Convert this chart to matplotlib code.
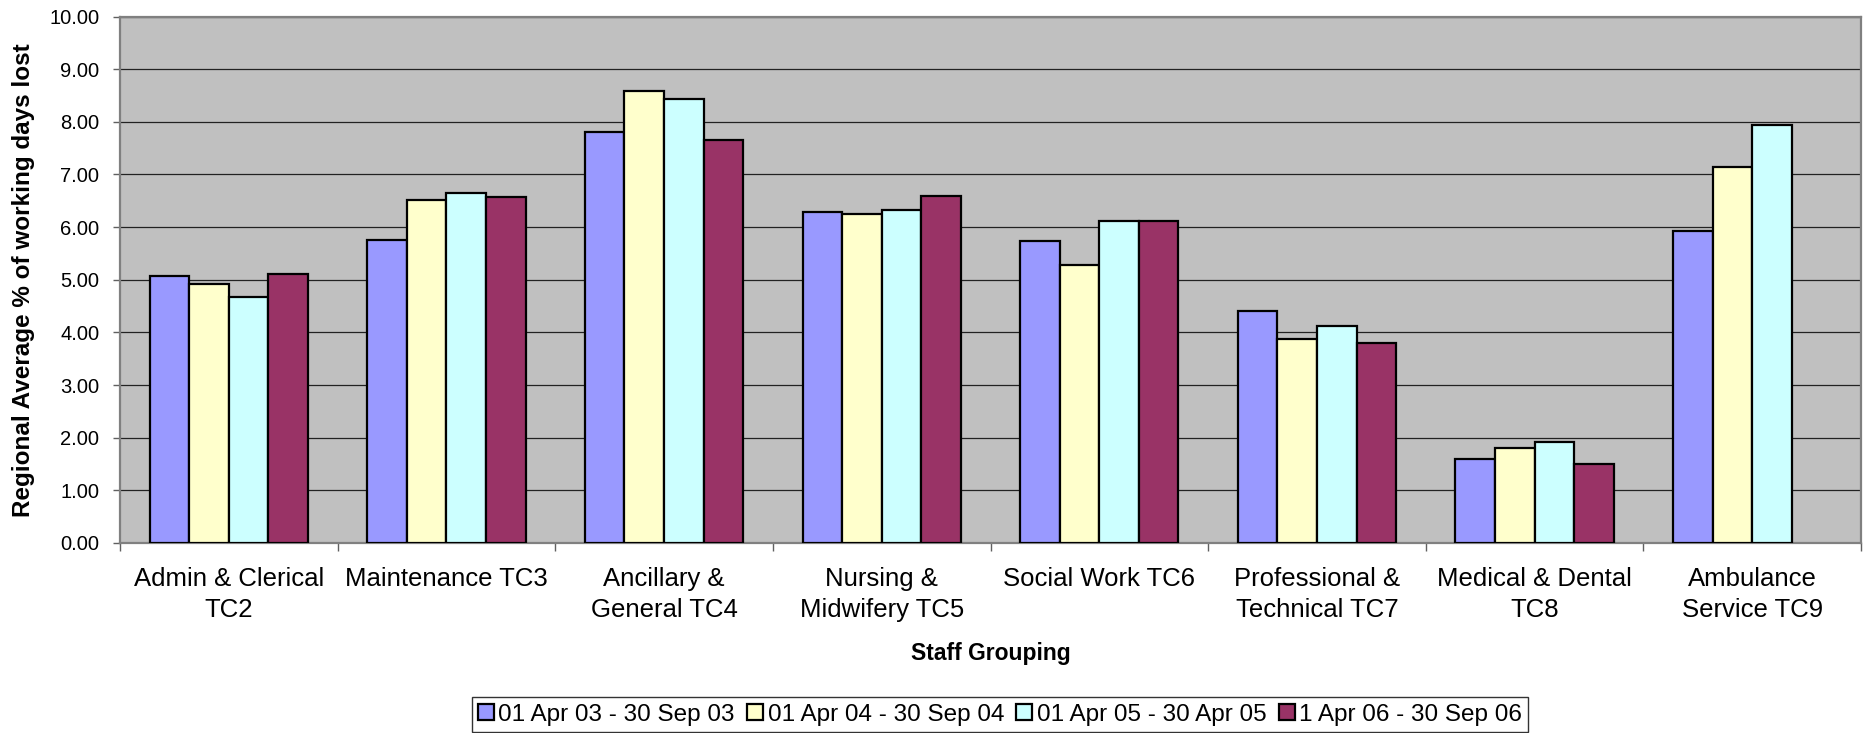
import numpy as np
import matplotlib
matplotlib.use("Agg")
import matplotlib.pyplot as plt
from matplotlib.ticker import FixedLocator, NullFormatter, FixedFormatter

plt.rcParams['font.family'] = ['Liberation Sans', 'DejaVu Sans']

categories = ["Admin & Clerical\nTC2", "Maintenance TC3", "Ancillary &\nGeneral TC4",
              "Nursing &\nMidwifery TC5", "Social Work TC6", "Professional &\nTechnical TC7",
              "Medical & Dental\nTC8", "Ambulance\nService TC9"]
series_names = ["01 Apr 03 - 30 Sep 03", "01 Apr 04 - 30 Sep 04",
                "01 Apr 05 - 30 Apr 05", "1 Apr 06 - 30 Sep 06"]
s2003 = [5.08, 5.76, 7.81, 6.29, 5.73, 4.40, 1.59, 5.93]
s2004 = [4.91, 6.52, 8.59, 6.25, 5.28, 3.87, 1.80, 7.14]
s2005 = [4.68, 6.64, 8.43, 6.32, 6.12, 4.12, 1.91, 7.93]
s2006 = [5.10, 6.58, 7.65, 6.59, 6.12, 3.80, 1.50, np.nan]
series = [s2003, s2004, s2005, s2006]
colors = ["#9999FF", "#FFFFCC", "#CCFFFF", "#993366"]
yticks = [0, 1, 2, 3, 4, 5, 6, 7, 8, 9, 10]

W, H = 1867, 733
fig = plt.figure(figsize=(W / 100, H / 100), dpi=100)
ax = fig.add_axes([120 / W, 1 - 543 / H, (1861 - 120) / W, (543 - 16.5) / H])
ax.set_facecolor("#C0C0C0")

n = len(categories)
centers = np.arange(n) + 0.5
w = 1 / 5.5
for j, (vals, col, name) in enumerate(zip(series, colors, series_names)):
    ax.bar(centers + (j - 1.5) * w, vals, width=w, color=col, edgecolor="black",
           linewidth=1.6, label=name, zorder=3)

ax.set_xlim(0, n)
ax.set_ylim(0, 10)
ax.set_yticks(yticks)
ax.set_yticklabels([f"{v:.2f}" for v in yticks], fontsize=14.5)
ax.yaxis.grid(True, color="#222222", linewidth=0.9, zorder=1)
ax.set_axisbelow(True)

ax.xaxis.set_major_locator(FixedLocator(np.arange(n + 1)))
ax.xaxis.set_major_formatter(NullFormatter())
ax.xaxis.set_minor_locator(FixedLocator(centers))
ax.xaxis.set_minor_formatter(FixedFormatter(categories))
ax.tick_params(axis="x", which="major", length=6, width=1, color="#606060", direction="out")
ax.tick_params(axis="x", which="minor", length=0, pad=17, labelsize=18.5)
ax.tick_params(axis="y", length=5, width=1, color="#606060", pad=10)
for lbl in ax.xaxis.get_minorticklabels():
    lbl.set_linespacing(1.4)

for s in ax.spines.values():
    s.set_color("#808080")
    s.set_linewidth(1.6)

ax.set_xlabel("Staff Grouping", fontsize=16.5, fontweight="bold", labelpad=14)
ax.set_ylabel("Regional Average % of working days lost", fontsize=17.5,
              fontweight="bold", labelpad=10)

leg = fig.legend(loc="center", bbox_to_anchor=(1000 / W, 1 - 714.5 / H), ncol=4,
                 fontsize=17.5, frameon=True, fancybox=False, edgecolor="black",
                 handlelength=0.65, handleheight=0.65, handletextpad=0.2,
                 columnspacing=0.5, borderpad=0.25, borderaxespad=0)
leg.get_frame().set_linewidth(1.0)

fig.savefig("out.png", dpi=100)
